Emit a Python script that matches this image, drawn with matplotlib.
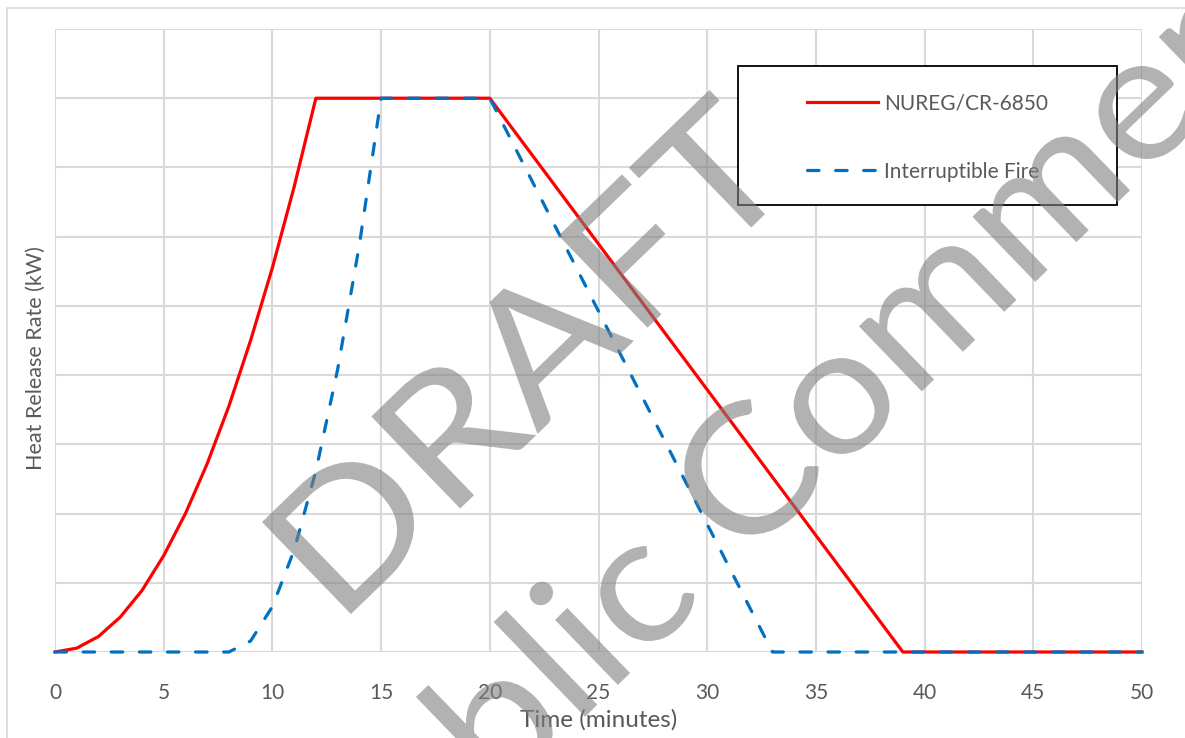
import matplotlib
matplotlib.use("Agg")
import matplotlib.pyplot as plt
from matplotlib.patches import Rectangle, PathPatch
from matplotlib.textpath import TextPath
from matplotlib.transforms import Affine2D
from matplotlib.font_manager import FontProperties

# Time (minutes) and heat release rate as a fraction of peak
nureg_time = [0, 1, 2, 3, 4, 5, 6, 7, 8, 9, 10, 11, 12, 20, 39, 50]
nureg_hrr = [0, 0.007, 0.028, 0.063, 0.111, 0.174, 0.25, 0.34, 0.444, 0.563,
             0.694, 0.84, 1.0, 1.0, 0, 0]

interrupt_time = [0, 8, 9, 10, 11, 12, 13, 14, 15, 20, 33, 50]
interrupt_hrr = [0, 0, 0.02, 0.082, 0.184, 0.327, 0.51, 0.735, 1.0, 1.0, 0, 0]

x_ticks = [0, 5, 10, 15, 20, 25, 30, 35, 40, 45, 50]
y_grid = [i * 0.125 for i in range(10)]

plt.rcParams["font.family"] = ["Lato", "DejaVu Sans"]
txt = "#595959"
grid = "#D9D9D9"
W, H = 1185, 738

fig = plt.figure(figsize=(W / 100, H / 100), dpi=100)
fig.patches.append(Rectangle((7 / W, -0.05), 1.1, 1 - 8 / H + 0.05,
                             transform=fig.transFigure, fill=False,
                             edgecolor=grid, linewidth=1.2))

ax = fig.add_axes([55 / W, 1 - 652 / H, (1142 - 55) / W, (652 - 29) / H])
ax.set_xlim(0, 50)
ax.set_ylim(0, 1.125)
ax.set_xticks(x_ticks)
ax.set_yticks(y_grid)
ax.set_yticklabels([])
ax.grid(True, color=grid, linewidth=1.5)
ax.set_axisbelow(True)
for s in ax.spines.values():
    s.set_visible(False)
ax.tick_params(axis="both", length=0, labelsize=15, labelcolor=txt, pad=22)

ax.plot(nureg_time, nureg_hrr, color="#FF0000", linewidth=2.3,
        label="NUREG/CR-6850", zorder=3, clip_on=False)
ax.plot(interrupt_time, interrupt_hrr, color="#0070C0", linewidth=2.3,
        dashes=(3.6, 5.2), dash_capstyle="round", label="Interruptible Fire",
        zorder=4, clip_on=False)

ax.set_xlabel("Time (minutes)", fontsize=17.5, color=txt, labelpad=5)
ax.set_ylabel("Heat Release Rate (kW)", fontsize=15.5, color=txt)
ax.yaxis.set_label_coords(-0.008, 0.472)

# legend box
fig.patches.append(Rectangle((738 / W, 1 - 205 / H), (1117 - 738) / W,
                             (205 - 66) / H, transform=fig.transFigure,
                             facecolor="white", edgecolor="black",
                             linewidth=1.3, zorder=5))
leg = fig.legend(loc="upper left", bbox_to_anchor=(788 / W, 1 - 75 / H),
                 frameon=False, fontsize=15, labelcolor=txt,
                 handlelength=3.4, handletextpad=0.3, labelspacing=2.3)
leg.set_zorder(6)

# watermark, drawn as text paths so it can be stretched like the original
fp = FontProperties(family="Lato")
angle = 44


def watermark(text, anchor, target, sx, sy):
    tp = TextPath((0, 0), text, size=100, prop=fp)
    tr = Affine2D().scale(sx, sy).rotate_deg(angle)
    px, py = tr.transform(anchor)
    tr.translate(target[0] - px, (H - target[1]) - py)
    fig.add_artist(PathPatch(tp, transform=tr, facecolor="#808080",
                             edgecolor="none", alpha=0.6, zorder=10))


ext = TextPath((0, 0), "DRAFT", size=100, prop=fp).get_extents()
sx1 = 622 / ext.width
sy1 = 128 / ext.y1
watermark("DRAFT", (ext.x0, ext.y1), (262, 522), sx1, sy1)

i_right = TextPath((0, 0), "Publi", size=100, prop=fp).get_extents().x1
i_w = TextPath((0, 0), "i", size=100, prop=fp).get_extents().width
watermark("Public Comment", (i_right - i_w / 2, 0), (624, 679),
          sx1 * 0.96, sy1 * 1.0)

fig.savefig("out.png", dpi=100)
